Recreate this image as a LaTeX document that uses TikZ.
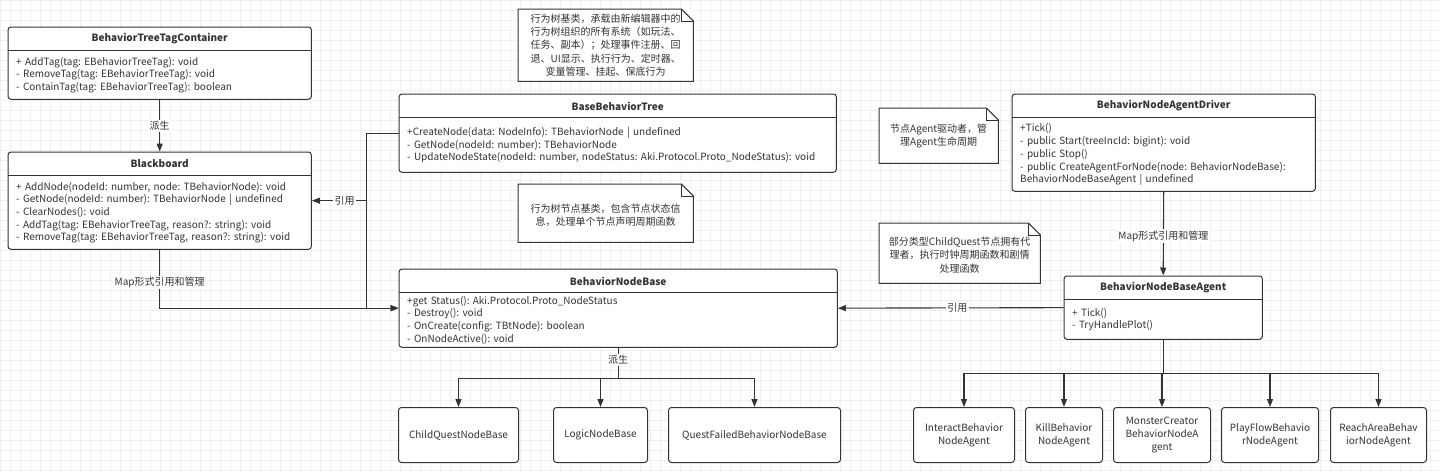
\documentclass[tikz,border=0pt]{standalone}
\usepackage{fontspec}
\setmainfont{Noto Sans CJK SC}
\usetikzlibrary{positioning}
\usetikzlibrary{arrows.meta}
\usetikzlibrary{fit}
\usetikzlibrary{calc}
\definecolor{linegray}{HTML}{333333}
\definecolor{textgray}{HTML}{333333}
\definecolor{gridgray}{HTML}{EFEFEF}
\tikzset{base/.style={inner sep=0pt,text=textgray,font=\fontsize{10}{12.7}\selectfont}}
\tikzset{classhead/.style={base,fill=white,minimum height=23.5pt,font=\fontsize{10}{12.7}\selectfont\bfseries}}
\tikzset{classbody/.style={base,fill=white,align=left,inner xsep=8pt}}
\tikzset{classframe/.style={draw=linegray,line width=1pt,rounded corners=3pt,inner sep=0pt}}
\tikzset{childbox/.style={base,draw=linegray,line width=1pt,fill=white,rounded corners=3pt,minimum height=55pt,align=center}}
\tikzset{note/.style={base,fill=white,align=center,font=\fontsize{10}{13.3}\selectfont}}
\tikzset{notefold/.style={draw=linegray,line width=1pt}}
\tikzset{arrow/.style={draw=linegray,line width=1.1pt,-{Triangle[length=8pt,width=6pt]}}}
\tikzset{edgelabel/.style={base,fill=white,inner sep=1.5pt}}
\tikzset{gridline/.style={draw=gridgray,line width=0.6pt}}

\begin{document}
\frenchspacing
\begin{tikzpicture}[x=1pt,y=-1pt]
    \useasboundingbox (0,0) rectangle (1440,472);
    \fill[white] (0,0) rectangle (1440,472);
    \foreach \gx in {0,10,...,1440} \draw[gridline] (\gx,0) -- (\gx,472);
    \foreach \gy in {0,10,...,470} \draw[gridline] (0,\gy) -- (1440,\gy);

    % classes
    \node[classhead,minimum width=303pt,anchor=north west] (taghead) at (8,27) {BehaviorTreeTagContainer};
    \node[classbody,text width=287pt,minimum height=48pt,below=0pt of taghead] (tagbody)
        {+ AddTag(tag: EBehaviorTreeTag): void\\- RemoveTag(tag: EBehaviorTreeTag): void\\- ContainTag(tag: EBehaviorTreeTag): boolean};
    \node[classframe,fit=(taghead)(tagbody)] (tag) {};
    \draw[linegray,line width=1pt] (taghead.south west) -- (taghead.south east);

    \node[classhead,minimum width=303pt,anchor=north west] (blackhead) at (8,152) {Blackboard};
    \node[classbody,text width=287pt,minimum height=73pt,below=0pt of blackhead] (blackbody)
        {+ AddNode(nodeId: number, node: TBehaviorNode): void\\- GetNode(nodeId: number): TBehaviorNode | undefined\\- ClearNodes(): void\\- AddTag(tag: EBehaviorTreeTag, reason?: string): void\\- RemoveTag(tag: EBehaviorTreeTag, reason?: string): void};
    \node[classframe,fit=(blackhead)(blackbody)] (blackboard) {};
    \draw[linegray,line width=1pt] (blackhead.south west) -- (blackhead.south east);

    \node[classhead,minimum width=437pt,anchor=north west] (treehead) at (399,94) {BaseBehaviorTree};
    \node[classbody,text width=421pt,minimum height=54pt,below=0pt of treehead] (treebody)
        {+CreateNode(data: NodeInfo): TBehaviorNode | undefined\\- GetNode(nodeId: number): TBehaviorNode\\- UpdateNodeState(nodeId: number, nodeStatus: Aki.Protocol.Proto\_NodeStatus): void};
    \node[classframe,fit=(treehead)(treebody)] (basetree) {};
    \draw[linegray,line width=1pt] (treehead.south west) -- (treehead.south east);

    \node[classhead,minimum width=438pt,anchor=north west] (nodehead) at (399,269) {BehaviorNodeBase};
    \node[classbody,text width=422pt,minimum height=54pt,below=0pt of nodehead] (nodebody)
        {+get Status(): Aki.Protocol.Proto\_NodeStatus\\- Destroy(): void\\- OnCreate(config: TBtNode): boolean\\- OnNodeActive(): void};
    \node[classframe,fit=(nodehead)(nodebody)] (nodebase) {};
    \draw[linegray,line width=1pt] (nodehead.south west) -- (nodehead.south east);

    \node[classhead,minimum width=303pt,anchor=north west] (driverhead) at (1012,94) {BehaviorNodeAgentDriver};
    \node[classbody,text width=287pt,minimum height=73pt,below=0pt of driverhead] (driverbody)
        {+Tick()\\- public Start(treeIncId: bigint): void\\- public Stop()\\- public CreateAgentForNode(node: BehaviorNodeBase):\\BehaviorNodeBaseAgent | undefined};
    \node[classframe,fit=(driverhead)(driverbody)] (driver) {};
    \draw[linegray,line width=1pt] (driverhead.south west) -- (driverhead.south east);

    \node[classhead,minimum width=198pt,anchor=north west] (agenthead) at (1064,276) {BehaviorNodeBaseAgent};
    \node[classbody,text width=182pt,minimum height=39pt,below=0pt of agenthead] (agentbody)
        {+ Tick()\\- TryHandlePlot()};
    \node[classframe,fit=(agenthead)(agentbody)] (agent) {};
    \draw[linegray,line width=1pt] (agenthead.south west) -- (agenthead.south east);

    % subclasses
    \node[childbox,minimum width=120pt,anchor=north west] (childquest) at (398,407) {ChildQuestNodeBase};
    \node[childbox,minimum width=94pt,right=34pt of childquest] (logic) {LogicNodeBase};
    \node[childbox,minimum width=172pt,right=20pt of logic] (questfailed) {QuestFailedBehaviorNodeBase};

    \node[childbox,minimum width=101pt,anchor=north west] (interact) at (913,407) {InteractBehavior\\NodeAgent};
    \node[childbox,minimum width=77pt,right=10pt of interact] (kill) {KillBehavior\\NodeAgent};
    \node[childbox,minimum width=97pt,right=10pt of kill] (monster) {MonsterCreator\\BehaviorNodeA\\gent};
    \node[childbox,minimum width=97pt,right=10pt of monster] (playflow) {PlayFlowBehavio\\rNodeAgent};
    \node[childbox,minimum width=96pt,right=11pt of playflow] (reacharea) {ReachAreaBehav\\iorNodeAgent};

    % notes
    \node[note,minimum width=175pt,minimum height=72pt,anchor=north west] (treenote) at (518,9)
        {行为树基类，承载由新编辑器中的\\行为树组织的所有系统（如玩法、\\任务、副本）；处理事件注册、回\\退、UI显示、执行行为、定时器、\\变量管理、挂起、保底行为};
    \node[note,minimum width=175pt,minimum height=58pt,anchor=north west] (nodenote) at (518,184)
        {\mbox{}\\[-1.3pt]行为树节点基类，包含节点状态信\\息，处理单个节点声明周期函数};
    \node[note,minimum width=119pt,minimum height=55pt,anchor=north west] (drivernote) at (879,108)
        {节点Agent驱动者，管\\理Agent生命周期};
    \node[note,minimum width=161pt,minimum height=60pt,anchor=north west] (agentnote) at (879,223)
        {\mbox{}\\[-1.3pt]部分类型ChildQuest节点拥有代\\理者，执行时钟周期函数和剧情\\处理函数};
    \foreach \n in {treenote,nodenote,drivernote,agentnote} {
        \draw[notefold] (\n.south west) -- (\n.north west) -- ([xshift=-12pt]\n.north east)
            -- ([yshift=-12pt]\n.north east) -- (\n.south east) -- cycle;
        \draw[notefold] ([xshift=-12pt]\n.north east) |- ([yshift=-12pt]\n.north east);
    }

    % relations
    \draw[arrow] (tag) -- node[edgelabel] {派生} (blackboard);
    \draw[arrow] (basetree.west) -- ++(-32,0) |- node[edgelabel,pos=0.7] {引用} (blackboard.east);
    \draw[arrow] (basetree.west) -- ++(-32,0) |- (nodebase.west);
    \draw[arrow] (blackboard.south) |- node[edgelabel,pos=0.28] {Map形式引用和管理} (nodebase.west);
    \draw[arrow] (agent.west) -- node[edgelabel,pos=0.47] {引用} (nodebase.east);
    \draw[arrow] (driver.south) -- node[edgelabel,pos=0.53] {Map形式引用和管理} (agent.north);

    \coordinate (nodesplit) at ($(nodebase.south)+(0,31)$);
    \foreach \c in {childquest,logic,questfailed}
        \draw[arrow] (nodebase.south) -- (nodesplit) -| (\c.north);
    \node[edgelabel] at ($(nodebase.south)!0.4!(nodesplit)$) {派生};

    \coordinate (agentsplit) at ($(agent.south)+(0,34)$);
    \foreach \c in {interact,kill,monster,playflow,reacharea}
        \draw[arrow] (agent.south) -- (agentsplit) -| (\c.north);
\end{tikzpicture}
\end{document}
